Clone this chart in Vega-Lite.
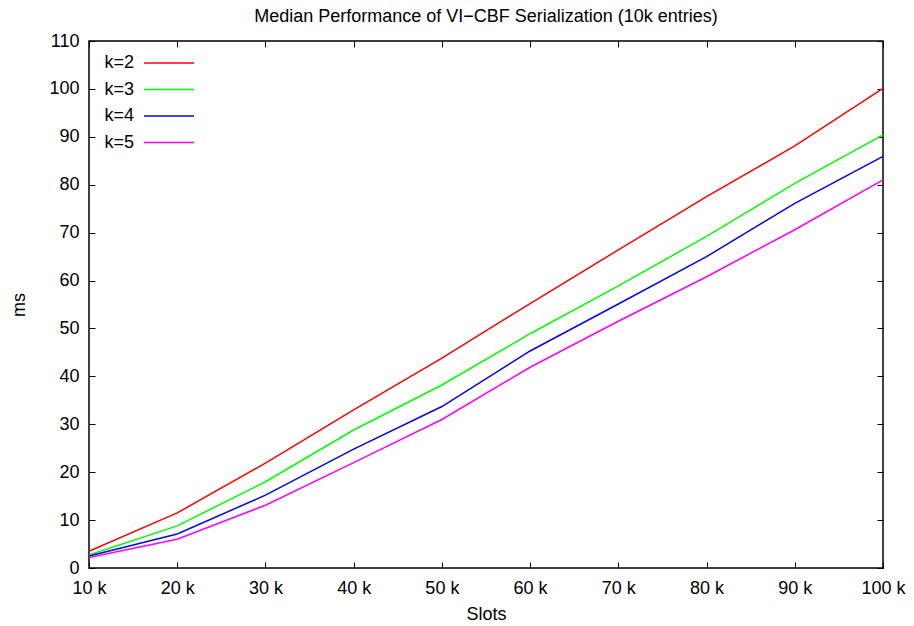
{
  "$schema": "https://vega.github.io/schema/vega-lite/v6.json",
  "width": 794,
  "height": 527,
  "autosize": {"type": "none"},
  "padding": {"left": 89, "top": 41, "right": 31, "bottom": 58},
  "background": "white",
  "config": {
    "font": "Liberation Sans",
    "view": {"stroke": "black", "strokeWidth": 1.5},
    "axis": {
      "grid": false,
      "domain": false,
      "tickColor": "black",
      "tickSize": -6,
      "tickWidth": 1,
      "labelFont": "Liberation Sans",
      "labelFontSize": 18,
      "labelColor": "black",
      "titleFont": "Liberation Sans",
      "titleFontSize": 18,
      "titleFontWeight": "normal",
      "titleColor": "black"
    }
  },
  "title": {
    "text": "Median Performance of VI−CBF Serialization (10k entries)",
    "font": "Liberation Sans",
    "fontSize": 18,
    "fontWeight": "normal",
    "color": "black",
    "anchor": "middle",
    "frame": "group",
    "baseline": "bottom",
    "offset": 8,
    "dy": 20
  },
  "data": {
    "values": [
      {"slots": 10, "k": "k=2", "ms": 3.5},
      {"slots": 20, "k": "k=2", "ms": 11.5},
      {"slots": 30, "k": "k=2", "ms": 21.9},
      {"slots": 40, "k": "k=2", "ms": 33.0},
      {"slots": 50, "k": "k=2", "ms": 43.8},
      {"slots": 60, "k": "k=2", "ms": 55.2},
      {"slots": 70, "k": "k=2", "ms": 66.4},
      {"slots": 80, "k": "k=2", "ms": 77.5},
      {"slots": 90, "k": "k=2", "ms": 88.1},
      {"slots": 100, "k": "k=2", "ms": 100.1},
      {"slots": 10, "k": "k=3", "ms": 2.7},
      {"slots": 20, "k": "k=3", "ms": 8.8},
      {"slots": 30, "k": "k=3", "ms": 18.0},
      {"slots": 40, "k": "k=3", "ms": 28.8},
      {"slots": 50, "k": "k=3", "ms": 38.2},
      {"slots": 60, "k": "k=3", "ms": 48.9},
      {"slots": 70, "k": "k=3", "ms": 58.9},
      {"slots": 80, "k": "k=3", "ms": 69.2},
      {"slots": 90, "k": "k=3", "ms": 80.3},
      {"slots": 100, "k": "k=3", "ms": 90.4},
      {"slots": 10, "k": "k=4", "ms": 2.5},
      {"slots": 20, "k": "k=4", "ms": 7.1},
      {"slots": 30, "k": "k=4", "ms": 15.2},
      {"slots": 40, "k": "k=4", "ms": 24.8},
      {"slots": 50, "k": "k=4", "ms": 33.7},
      {"slots": 60, "k": "k=4", "ms": 45.3},
      {"slots": 70, "k": "k=4", "ms": 55.1},
      {"slots": 80, "k": "k=4", "ms": 65.0},
      {"slots": 90, "k": "k=4", "ms": 76.1},
      {"slots": 100, "k": "k=4", "ms": 85.9},
      {"slots": 10, "k": "k=5", "ms": 2.2},
      {"slots": 20, "k": "k=5", "ms": 6.0},
      {"slots": 30, "k": "k=5", "ms": 13.1},
      {"slots": 40, "k": "k=5", "ms": 22.0},
      {"slots": 50, "k": "k=5", "ms": 31.0},
      {"slots": 60, "k": "k=5", "ms": 41.9},
      {"slots": 70, "k": "k=5", "ms": 51.5},
      {"slots": 80, "k": "k=5", "ms": 60.8},
      {"slots": 90, "k": "k=5", "ms": 70.6},
      {"slots": 100, "k": "k=5", "ms": 81.0}
    ]
  },
  "layer": [
    {
      "mark": {"type": "line", "strokeWidth": 1.5},
      "encoding": {
        "x": {
          "field": "slots", "type": "quantitative",
          "scale": {"domain": [10, 100], "nice": false, "zero": false},
          "axis": {"orient": "bottom", "values": [10,20,30,40,50,60,70,80,90,100], "labelExpr": "datum.value + ' k'", "labelPadding": 17, "title": "Slots", "titlePadding": 8, "labelFlush": false, "labelOverlap": false}
        },
        "y": {
          "field": "ms", "type": "quantitative",
          "scale": {"domain": [0, 110], "nice": false},
          "axis": {"orient": "left", "values": [0,10,20,30,40,50,60,70,80,90,100,110], "labelPadding": 16, "title": "ms", "titlePadding": 20, "labelOverlap": false}
        },
        "color": {
          "field": "k", "type": "nominal",
          "scale": {"domain": ["k=2", "k=3", "k=4", "k=5"], "range": ["#ff0000", "#00ff00", "#0000ff", "#ff00ff"]},
          "legend": {
            "title": null,
            "orient": "none",
            "legendX": 69,
            "legendY": 11,
            "padding": 0,
            "symbolType": "M-2.5,0H2.5",
            "symbolSize": 400,
            "symbolStrokeWidth": 1.5,
            "labelAlign": "right",
            "labelOffset": -46,
            "labelFont": "Liberation Sans",
            "labelFontSize": 18,
            "labelColor": "black",
            "rowPadding": 6.5
          }
        }
      }
    },
    {
      "mark": {"type": "line", "opacity": 0},
      "encoding": {
        "x": {
          "field": "slots", "type": "quantitative",
          "axis": {"orient": "top", "values": [10,20,30,40,50,60,70,80,90,100], "labels": false, "title": null}
        },
        "y": {
          "field": "ms", "type": "quantitative",
          "axis": {"orient": "right", "values": [0,10,20,30,40,50,60,70,80,90,100,110], "labels": false, "title": null}
        },
        "detail": {"field": "k"}
      }
    }
  ],
  "resolve": {"axis": {"x": "independent", "y": "independent"}}
}
